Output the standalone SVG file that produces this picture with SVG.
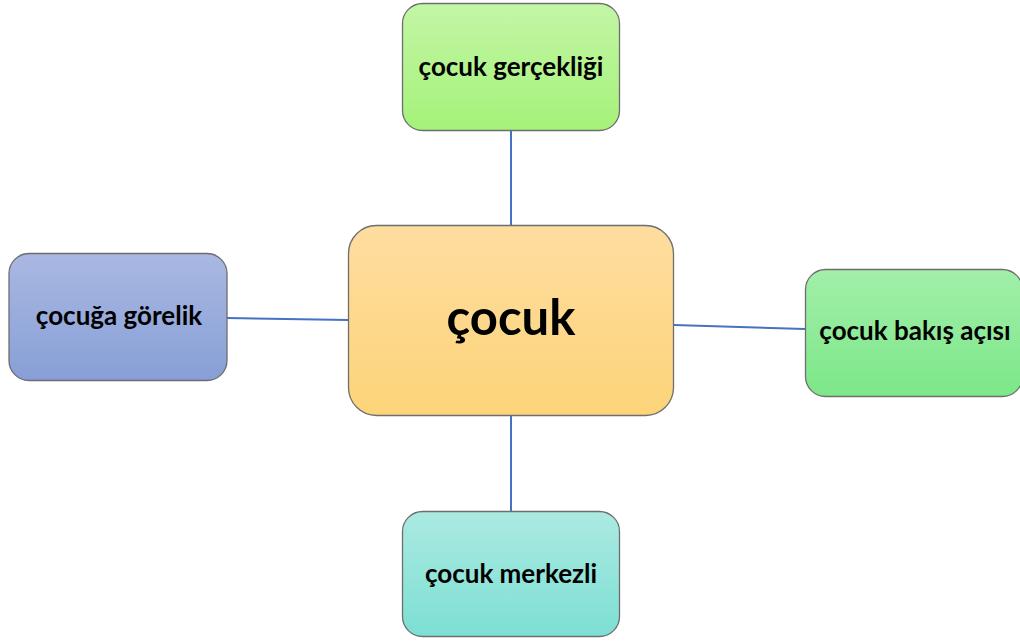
<svg xmlns="http://www.w3.org/2000/svg" width="1020" height="642" viewBox="0 0 1020 642">
<defs>
<linearGradient id="gTop" x1="0" y1="0" x2="0" y2="1"><stop offset="0" stop-color="#c3f6a6"/><stop offset="1" stop-color="#a5f27a"/></linearGradient>
<linearGradient id="gCenter" x1="0" y1="0" x2="0" y2="1"><stop offset="0" stop-color="#fedda0"/><stop offset="1" stop-color="#fdd479"/></linearGradient>
<linearGradient id="gLeft" x1="0" y1="0" x2="0" y2="1"><stop offset="0" stop-color="#aab8e2"/><stop offset="1" stop-color="#879fd7"/></linearGradient>
<linearGradient id="gRight" x1="0" y1="0" x2="0" y2="1"><stop offset="0" stop-color="#a2efaa"/><stop offset="1" stop-color="#7ce788"/></linearGradient>
<linearGradient id="gBottom" x1="0" y1="0" x2="0" y2="1"><stop offset="0" stop-color="#abeae1"/><stop offset="1" stop-color="#7ddfd4"/></linearGradient>
</defs>
<style>
.box{stroke:#6e6e6e;stroke-width:1.3}
.lbl{font-family:Lato,"Open Sans",sans-serif;font-weight:bold;fill:#000;text-anchor:middle}
.conn{stroke:#4472c4;stroke-width:2;fill:none}
</style>
<rect width="1020" height="642" fill="#ffffff"/>
<g id="connectors">
<line class="conn" x1="511" y1="130" x2="511" y2="225"/>
<line class="conn" x1="227" y1="318" x2="348" y2="320"/>
<line class="conn" x1="674" y1="325" x2="805" y2="329"/>
<line class="conn" x1="511" y1="415" x2="511" y2="511"/>
</g>
<g id="node-center">
<rect class="box" x="348.5" y="225.5" width="325" height="190" rx="28" fill="url(#gCenter)"/>
<text class="lbl" x="511" y="335" font-size="49">çocuk</text>
</g>
<g id="node-top">
<rect class="box" x="402.5" y="3.5" width="217" height="127" rx="20" fill="url(#gTop)"/>
<text class="lbl" x="511" y="76" font-size="26">çocuk gerçekliği</text>
</g>
<g id="node-left">
<rect class="box" x="9" y="253.5" width="218" height="127" rx="20" fill="url(#gLeft)"/>
<text class="lbl" x="119" y="325" font-size="26">çocuğa görelik</text>
</g>
<g id="node-right">
<rect class="box" x="805.5" y="269.5" width="217" height="127" rx="20" fill="url(#gRight)"/>
<text class="lbl" x="915" y="340" font-size="26">çocuk bakış açısı</text>
</g>
<g id="node-bottom">
<rect class="box" x="402.5" y="511.5" width="217" height="125" rx="20" fill="url(#gBottom)"/>
<text class="lbl" x="511" y="583" font-size="26">çocuk merkezli</text>
</g>
</svg>
